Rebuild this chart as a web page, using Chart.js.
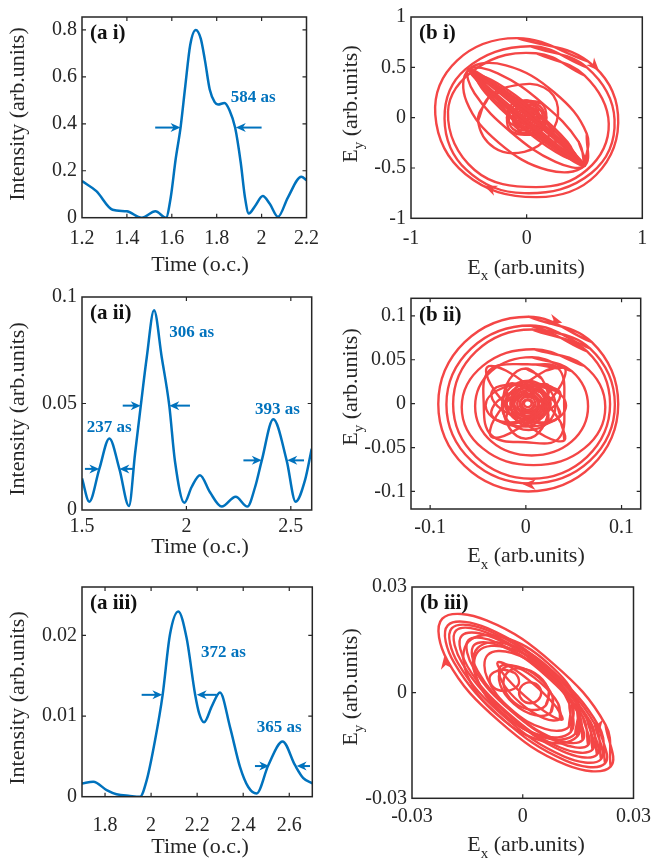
<!DOCTYPE html>
<html>
<head>
<meta charset="utf-8">
<script src="https://cdn.jsdelivr.net/npm/chart.js@4.4.1/dist/chart.umd.min.js"></script>
<style>
  body { margin: 0; background: #fff; }
  #page { position: relative; width: 657px; height: 862px; overflow: hidden; }
  canvas { position: absolute; }
</style>
</head>
<body>
<div id="page">
  <canvas id="ai" width="328" height="280" style="left:0;top:0"></canvas>
  <canvas id="bi" width="327" height="280" style="left:330px;top:0"></canvas>
  <canvas id="aii" width="328" height="290" style="left:0;top:280px"></canvas>
  <canvas id="bii" width="327" height="290" style="left:330px;top:280px"></canvas>
  <canvas id="aiii" width="328" height="292" style="left:0;top:570px"></canvas>
  <canvas id="biii" width="327" height="292" style="left:330px;top:570px"></canvas>
</div>
<script>
// ---------- (a i) pulse ----------
const aiTime = [1.2, 1.264, 1.336, 1.40, 1.466, 1.527, 1.574, 1.595, 1.617, 1.639, 1.660, 1.682, 1.707, 1.729, 1.748, 1.769, 1.791, 1.806, 1.835, 1.857, 1.882, 1.907, 1.926, 1.943, 1.972, 2.005, 2.037, 2.073, 2.117, 2.177, 2.2];
const aiIntensity = [0.156, 0.113, 0.034, 0.027, 0.0, 0.027, 0.0, 0.085, 0.248, 0.384, 0.560, 0.736, 0.80, 0.763, 0.668, 0.546, 0.492, 0.482, 0.489, 0.458, 0.384, 0.235, 0.086, 0.018, 0.051, 0.092, 0.058, 0.004, 0.086, 0.174, 0.160];
const aiTimeTicks = [1.2, 1.4, 1.6, 1.8, 2, 2.2];
const aiIntensityTicks = [0, 0.2, 0.4, 0.6, 0.8];
const aiArrows = [[1.526, 1.639, 0.384], [2.0, 1.885, 0.384]];   // tail, head, level
const aiWidthText = ['584 as'];
const aiWidthX = [1.863];
const aiWidthY = [0.512];

// ---------- (a ii) pulse ----------
const aiiTime = [1.5, 1.535, 1.583, 1.631, 1.679, 1.725, 1.754, 1.7815, 1.81, 1.845, 1.882, 1.918, 1.945, 1.99, 2.025, 2.065, 2.113, 2.169, 2.236, 2.292, 2.329, 2.361, 2.416, 2.48, 2.523, 2.568, 2.6];
const aiiIntensity = [0.0148, 0.0039, 0.0193, 0.0336, 0.0193, 0.0019, 0.0264, 0.049, 0.0716, 0.0938, 0.0716, 0.049, 0.023, 0.0034, 0.0108, 0.0163, 0.0083, 0.0016, 0.0062, 0.0016, 0.0108, 0.0233, 0.0426, 0.0233, 0.0039, 0.014, 0.0288];
const aiiTimeTicks = [1.5, 2, 2.5];
const aiiIntensityTicks = [0, 0.05, 0.1];
const aiiArrows = [[1.514, 1.583, 0.0193], [1.746, 1.679, 0.0193], [1.695, 1.781, 0.049], [2.017, 1.918, 0.049], [2.273, 2.361, 0.0233], [2.563, 2.483, 0.0233]];
const aiiWidthText = ['237 as', '306 as', '393 as'];
const aiiWidthX = [1.5225, 1.918, 2.329];
const aiiWidthY = [0.0389, 0.0832, 0.047];

// ---------- (a iii) pulse ----------
const aiiiTime = [1.7, 1.749, 1.807, 1.85, 1.908, 1.952, 1.981, 2.017, 2.05, 2.082, 2.118, 2.154, 2.191, 2.209, 2.23, 2.265, 2.299, 2.343, 2.386, 2.422, 2.458, 2.509, 2.571, 2.625, 2.661, 2.7];
const aiiiIntensity = [0.00165, 0.00185, 0.00082, 0.0003, 0.0001, 0.0, 0.00205, 0.00697, 0.0126, 0.0201, 0.02296, 0.0197, 0.0127, 0.0103, 0.00923, 0.0113, 0.01292, 0.0086, 0.0037, 0.0012, 0.0004, 0.0039, 0.00685, 0.0039, 0.0023, 0.00165];
const aiiiTimeTicks = [1.8, 2, 2.2, 2.4, 2.6];
const aiiiIntensityTicks = [0, 0.01, 0.02];
const aiiiArrows = [[1.959, 2.049, 0.01263], [2.285, 2.198, 0.01263], [2.451, 2.513, 0.0038], [2.69, 2.632, 0.0038]];
const aiiiWidthText = ['372 as', '365 as'];
const aiiiWidthX = [2.217, 2.459];
const aiiiWidthY = [0.0179, 0.0086];

// ---------- (b i) polarization loops [Ex, Ey] ----------
const biRing1 = [[-0.08, 0.79], [0.53, 0.56], [0.79, 0.03], [0.60, -0.57], [0.08, -0.79], [-0.53, -0.56], [-0.79, 0.03], [-0.60, 0.57]];
const biRing2 = [[0.03, 0.71], [0.52, 0.50], [0.76, -0.02], [0.56, -0.55], [-0.02, -0.75], [-0.52, -0.52], [-0.71, -0.01], [-0.53, 0.48]];
const biRing3 = [[0.08, 0.64], [0.50, 0.42], [0.71, -0.06], [0.52, -0.52], [0.08, -0.69], [-0.45, -0.52], [-0.68, 0.06], [-0.42, 0.50]];
const biTilt1 = [[0.50, -0.48], [0.52, -0.16], [0.24, 0.25], [-0.18, 0.52], [-0.50, 0.48], [-0.52, 0.16], [-0.24, -0.25], [0.18, -0.52]];
const biTilt2 = [[0.50, -0.48], [0.45, -0.24], [0.14, 0.14], [-0.25, 0.44], [-0.50, 0.48], [-0.45, 0.24], [-0.14, -0.14], [0.25, -0.44]];
const biNeedle1 = [[0.50, -0.48], [0.38, -0.31], [0.04, 0.04], [-0.32, 0.37], [-0.50, 0.48], [-0.38, 0.31], [-0.04, -0.04], [0.32, -0.37]];
const biNeedle2 = [[0.50, -0.48], [0.37, -0.32], [0.02, 0.02], [-0.34, 0.35], [-0.50, 0.48], [-0.37, 0.32], [-0.02, -0.02], [0.34, -0.35]];
const biNeedle3 = [[0.40, -0.38], [0.30, -0.24], [0.03, 0.04], [-0.26, 0.29], [-0.40, 0.38], [-0.30, 0.24], [-0.03, -0.04], [0.26, -0.29]];
const biNeedle4 = [[0.45, -0.43], [0.35, -0.26], [0.06, 0.06], [-0.28, 0.34], [-0.45, 0.43], [-0.35, 0.26], [-0.06, -0.06], [0.28, -0.34]];
const biNeedle5 = [[0.50, -0.48], [0.373, -0.314], [0.031, 0.032], [-0.329, 0.36], [-0.50, 0.48], [-0.373, 0.314], [-0.031, -0.032], [0.329, -0.36]];
const biNeedle6 = [[0.50, -0.48], [0.358, -0.329], [0.01, 0.011], [-0.344, 0.345], [-0.50, 0.48], [-0.358, 0.329], [-0.01, -0.011], [0.344, -0.345]];
const biNeedle7 = [[0.252, -0.242], [0.222, -0.125], [0.062, 0.065], [-0.134, 0.217], [-0.252, 0.242], [-0.222, 0.125], [-0.062, -0.065], [0.134, -0.217]];
const biNeedle8 = [[0.432, -0.414], [0.354, -0.242], [0.069, 0.072], [-0.256, 0.344], [-0.432, 0.414], [-0.354, 0.242], [-0.069, -0.072], [0.256, -0.344]];
const biInner = [[-0.42, -0.03], [-0.33, 0.20], [-0.10, 0.32], [0.15, 0.30], [0.27, 0.10], [0.20, -0.17], [-0.02, -0.34], [-0.28, -0.30]];
const biCore1 = [[0, 0.17], [0.13, 0.14], [0.17, 0], [0.12, -0.14], [0, -0.17], [-0.14, -0.13], [-0.17, 0], [-0.13, 0.13]];
const biCore2 = [[0.01, 0.13], [0.10, 0.10], [0.14, 0], [0.10, -0.10], [0.01, -0.13], [-0.09, -0.10], [-0.12, 0], [-0.09, 0.10]];
const biCore3 = [[0, 0.09], [0.065, 0.065], [0.09, 0], [0.065, -0.065], [0, -0.09], [-0.065, -0.065], [-0.09, 0], [-0.065, 0.065]];
const biCore4 = [[0, 0.05], [0.035, 0.035], [0.05, 0], [0.035, -0.035], [0, -0.05], [-0.035, -0.035], [-0.05, 0], [-0.035, 0.035]];
const biCore5 = [[0, 0.10], [0.12, 0.07], [0.17, 0], [0.12, -0.07], [0, -0.10], [-0.12, -0.07], [-0.17, 0], [-0.12, 0.07]];
const biCore6 = [[0, 0.17], [0.07, 0.12], [0.10, 0], [0.07, -0.12], [0, -0.17], [-0.07, -0.12], [-0.10, 0], [-0.07, 0.12]];
const biCore7 = [[0.01, 0.155], [0.115, 0.115], [0.155, 0.005], [0.11, -0.12], [0, -0.155], [-0.12, -0.11], [-0.155, 0], [-0.11, 0.115]];
const biCore8 = [[0, 0.11], [0.08, 0.08], [0.115, 0], [0.08, -0.08], [0, -0.11], [-0.08, -0.08], [-0.11, 0], [-0.08, 0.08]];
const biCore9 = [[0, 0.07], [0.05, 0.05], [0.07, 0], [0.05, -0.05], [0, -0.07], [-0.05, -0.05], [-0.07, 0], [-0.05, 0.05]];
const biCore10 = [[0, 0.03], [0.021, 0.021], [0.03, 0], [0.021, -0.021], [0, -0.03], [-0.021, -0.021], [-0.03, 0], [-0.021, 0.021]];
const biCore11 = [[0, 0.014], [0.01, 0.01], [0.014, 0], [0.01, -0.01], [0, -0.014], [-0.01, -0.01], [-0.014, 0], [-0.01, 0.01]];
const biHeads = [[0.59, 0.51, 0.64, -0.77], [-0.32, -0.70, -0.906, 0.423]];   // x, y, direction
const biTicksX = [-1, 0, 1];
const biTicksY = [-1, -0.5, 0, 0.5, 1];

// ---------- (b ii) polarization loops ----------
const biiRing1 = [[0.0025, 0.099], [0.069, 0.070], [0.0965, -0.0005], [0.069, -0.071], [0.0025, -0.100], [-0.064, -0.071], [-0.0915, -0.0005], [-0.064, 0.070]];
const biiRing2 = [[0.005, 0.089], [0.067, 0.063], [0.093, -0.001], [0.067, -0.065], [0.005, -0.091], [-0.057, -0.065], [-0.083, -0.001], [-0.057, 0.063]];
const biiRing3 = [[0.006, 0.0845], [0.064, 0.0596], [0.088, -0.0005], [0.064, -0.0606], [0.006, -0.0855], [-0.052, -0.0606], [-0.076, -0.0005], [-0.052, 0.0596]];
const biiMid1 = [[0.008, 0.062], [0.061, 0.043], [0.083, -0.004], [0.061, -0.051], [0.008, -0.070], [-0.045, -0.051], [-0.067, -0.004], [-0.045, 0.043]];
const biiMid2 = [[0.006, 0.053], [0.048, 0.037], [0.065, -0.003], [0.048, -0.043], [0.006, -0.059], [-0.036, -0.043], [-0.053, -0.003], [-0.036, 0.037]];
const biiPetal1 = [[0.0403, -0.0417], [0.0366, -0.0216], [0.0115, 0.0111], [-0.0204, 0.0374], [-0.0403, 0.0417], [-0.0366, 0.0216], [-0.0115, -0.0111], [0.0204, -0.0374]];
const biiPetal2 = [[0.0402, 0.0415], [0.0209, 0.0378], [-0.0095, 0.0131], [-0.0331, -0.018], [-0.0362, -0.0375], [-0.0169, -0.0338], [0.0135, -0.0091], [0.0371, 0.022]];
const biiPetal3 = [[0, 0.022], [0.03, 0.015], [0.042, -0.002], [0.03, -0.019], [0, -0.026], [-0.03, -0.019], [-0.042, -0.002], [-0.03, 0.015]];
const biiPetal4 = [[0, 0.04], [0.017, 0.028], [0.024, 0], [0.017, -0.028], [0, -0.04], [-0.017, -0.028], [-0.024, 0], [-0.017, 0.028]];
const biiPetal5 = [[0.0357, 0.013], [0.0208, 0.0212], [-0.0062, 0.0169], [-0.0296, 0.0028], [-0.0357, -0.013], [-0.0208, -0.0212], [0.0062, -0.0169], [0.0296, -0.0028]];
const biiPetal6 = [[0.0357, -0.013], [0.0296, 0.0028], [0.0062, 0.0169], [-0.0208, 0.0212], [-0.0357, 0.013], [-0.0296, -0.0028], [-0.0062, -0.0169], [0.0208, -0.0212]];
const biiEdge = [[0, 0.045], [0.034, 0.04], [0.04, 0], [0.034, -0.04], [0, -0.044], [-0.036, -0.036], [-0.044, 0], [-0.038, 0.038]];
const biiCore1 = [[0.002, 0.022], [0.0175, 0.0155], [0.024, 0], [0.0175, -0.0155], [0.002, -0.022], [-0.0135, -0.0155], [-0.02, 0], [-0.0135, 0.0155]];
const biiCore2 = [[0.002, 0.015], [0.0126, 0.0106], [0.017, 0], [0.0126, -0.0106], [0.002, -0.015], [-0.0086, -0.0106], [-0.013, 0], [-0.0086, 0.0106]];
const biiCore3 = [[0.002, 0.008], [0.0077, 0.0057], [0.01, 0], [0.0077, -0.0057], [0.002, -0.008], [-0.0037, -0.0057], [-0.006, 0], [-0.0037, 0.0057]];
const biiCore4 = [[0.0229, -0.0216], [0.0229, -0.0094], [0.0106, 0.0083], [-0.0067, 0.0212], [-0.0189, 0.0216], [-0.0189, 0.0094], [-0.0066, -0.0083], [0.0107, -0.0212]];
const biiCore5 = [[0.0229, 0.0216], [0.0107, 0.0212], [-0.0066, 0.0083], [-0.0189, -0.0094], [-0.0189, -0.0216], [-0.0067, -0.0212], [0.0106, -0.0083], [0.0229, 0.0094]];
const biiCore6 = [[0.003, 0.026], [0.0228, 0.0178], [0.031, -0.002], [0.0228, -0.0218], [0.003, -0.030], [-0.0168, -0.0218], [-0.025, -0.002], [-0.0168, 0.0178]];
const biiCore7 = [[0.002, 0.004], [0.0048, 0.0028], [0.006, 0], [0.0048, -0.0028], [0.002, -0.004], [-0.0008, -0.0028], [-0.002, 0], [-0.0008, 0.0028]];
const biiCore8 = [[0.002, 0.011], [0.0098, 0.0078], [0.013, 0], [0.0098, -0.0078], [0.002, -0.011], [-0.0058, -0.0078], [-0.009, 0], [-0.0058, 0.0078]];
const biiCore9 = [[0.003, 0.019], [0.0164, 0.0134], [0.022, 0], [0.0164, -0.0134], [0.003, -0.019], [-0.0104, -0.0134], [-0.016, 0], [-0.0104, 0.0134]];
const biiCore10 = [[0.002, 0.005], [0.0062, 0.0032], [0.008, -0.001], [0.0062, -0.0052], [0.002, -0.007], [-0.0022, -0.0052], [-0.004, -0.001], [-0.0022, 0.0032]];
const biiCore11 = [[0.003, 0.0095], [0.0097, 0.0067], [0.0125, 0], [0.0097, -0.0067], [0.003, -0.0095], [-0.0037, -0.0067], [-0.0065, 0], [-0.0037, 0.0067]];
const biiCore12 = [[0.001, 0.012], [0.0102, 0.0082], [0.014, -0.001], [0.0102, -0.0102], [0.001, -0.014], [-0.0082, -0.0102], [-0.012, -0.001], [-0.0082, 0.0082]];
const biiCore13 = [[0.003, 0.018], [0.015, 0.013], [0.02, 0.001], [0.015, -0.011], [0.003, -0.016], [-0.009, -0.011], [-0.014, 0.001], [-0.009, 0.013]];
const biiCore14 = [[0.002, 0.018], [0.019, 0.0127], [0.026, 0], [0.019, -0.0127], [0.002, -0.018], [-0.015, -0.0127], [-0.022, 0], [-0.015, 0.0127]];
const biiCore15 = [[0.002, 0.025], [0.0147, 0.0177], [0.02, 0], [0.0147, -0.0177], [0.002, -0.025], [-0.0107, -0.0177], [-0.016, 0], [-0.0107, 0.0177]];
const biiHeads = [[0.032, 0.094, 1, -0.3], [0.003, -0.092, -1, 0.03]];
const biiTicksX = [-0.1, 0, 0.1];
const biiTicksY = [-0.1, -0.05, 0, 0.05, 0.1];

// ---------- (b iii) polarization loops ----------
const biiiRing1 = [[0.0238, -0.021], [0.0224, -0.0091], [0.0084, 0.0081], [-0.0098, 0.0205], [-0.0218, 0.021], [-0.0204, 0.0091], [-0.0064, -0.0081], [0.0118, -0.0205]];
const biiiRing2 = [[0.0223, -0.0201], [0.0206, -0.0095], [0.0074, 0.0065], [-0.0096, 0.0183], [-0.0203, 0.0191], [-0.0186, 0.0085], [-0.0054, -0.0075], [0.0116, -0.0193]];
const biiiRing3 = [[0.0201, -0.0176], [0.0183, -0.0082], [0.0064, 0.0059], [-0.0087, 0.0166], [-0.0181, 0.0176], [-0.0163, 0.0082], [-0.0044, -0.0059], [0.0107, -0.0166]];
const biiiRing4 = [[0.0177, -0.0149], [0.0163, -0.0069], [0.0062, 0.0052], [-0.0067, 0.0141], [-0.0147, 0.0149], [-0.0133, 0.0069], [-0.0032, -0.0052], [0.0097, -0.0141]];
const biiiRing5 = [[0.0212, -0.0189], [0.0195, -0.0089], [0.007, 0.0062], [-0.0091, 0.0175], [-0.0192, 0.0183], [-0.0175, 0.0083], [-0.005, -0.0068], [0.0111, -0.0181]];
const biiiRing6 = [[0.0189, -0.0162], [0.0174, -0.0075], [0.0065, 0.0057], [-0.0076, 0.0155], [-0.0165, 0.0162], [-0.015, 0.0075], [-0.0041, -0.0057], [0.01, -0.0155]];
const biiiRing7 = [[0.0162, -0.0135], [0.0152, -0.0061], [0.0061, 0.005], [-0.0056, 0.0131], [-0.0132, 0.0135], [-0.0122, 0.0061], [-0.0031, -0.005], [0.0086, -0.0131]];
const biiiMid1 = [[0.0142, -0.0117], [0.0147, -0.0034], [0.0071, 0.0071], [-0.0041, 0.0138], [-0.0122, 0.0127], [-0.0127, 0.0044], [-0.0051, -0.0061], [0.0061, -0.0128]];
const biiiMid2 = [[0.0147, -0.0125], [0.0152, -0.0034], [0.0068, 0.0084], [-0.0056, 0.0158], [-0.0147, 0.0145], [-0.0152, 0.0054], [-0.0068, -0.0064], [0.0056, -0.0138]];
const biiiMid3 = [[0.0125, -0.0097], [0.0126, -0.0031], [0.0062, 0.0057], [-0.003, 0.0113], [-0.0095, 0.0107], [-0.0096, 0.0041], [-0.0032, -0.0047], [0.006, -0.0103]];
const biiiMid4 = [[0.013, -0.0112], [0.0134, -0.0034], [0.0063, 0.0066], [-0.0042, 0.0128], [-0.012, 0.0118], [-0.0124, 0.004], [-0.0053, -0.006], [0.0052, -0.0122]];
const biiiCore1 = [[0.0101, -0.0074], [0.0096, -0.0031], [0.0047, 0.0029], [-0.0018, 0.0073], [-0.0061, 0.0074], [-0.0056, 0.0031], [-0.0007, -0.0029], [0.0058, -0.0073]];
const biiiCore2 = [[0.0062, -0.0037], [0.0071, 0.0003], [0.0044, 0.0047], [-0.0003, 0.0069], [-0.0042, 0.0057], [-0.0051, 0.0017], [-0.0024, -0.0027], [0.0023, -0.0049]];
const biiiCore3 = [[0.002, 0.003], [0.0041, 0.0021], [0.005, 0], [0.0041, -0.0021], [0.002, -0.003], [-0.0001, -0.0021], [-0.001, 0], [-0.0001, 0.0021]];
const biiiCore4 = [[0.0108, -0.0076], [0.0092, -0.0042], [0.0034, 0.002], [-0.0032, 0.0072], [-0.0068, 0.0086], [-0.0052, 0.0052], [0.0006, -0.001], [0.0072, -0.0062]];
const biiiCore5 = [[-0.005, 0.0065], [-0.0022, 0.0056], [-0.001, 0.003], [-0.0022, 0.0012], [-0.005, 0.0005], [-0.0078, 0.0014], [-0.009, 0.004], [-0.0078, 0.0058]];
const biiiCore6 = [[0.0076, -0.0056], [0.0081, -0.0012], [0.0044, 0.0042], [-0.0013, 0.0074], [-0.0056, 0.0066], [-0.0061, 0.0022], [-0.0024, -0.0032], [0.0033, -0.0064]];
const biiiHeads = [[-0.021, 0.0087, -0.15, 1], [0.0205, -0.0097, 0.12, -1]];
const biiiTicksX = [-0.03, 0, 0.03];
const biiiTicksY = [-0.03, 0, 0.03];

const FONT = '"Liberation Serif", "Times New Roman", serif';
const INK = '#262626';
const BLUE = '#0072BD';
const RED = '#F44646';

Chart.defaults.font.family = FONT;
Chart.defaults.animation = false;

// filled arrowhead with a notch, tip at (x, y) pointing along (ux, uy)
function dart(ctx, x, y, ux, uy, len, half, notch) {
  const px = -uy, py = ux;
  const bx = x - ux * len, by = y - uy * len;
  ctx.beginPath();
  ctx.moveTo(x, y);
  ctx.lineTo(bx + px * half, by + py * half);
  ctx.lineTo(x - ux * (len - notch), y - uy * (len - notch));
  ctx.lineTo(bx - px * half, by - py * half);
  ctx.closePath();
  ctx.fill();
}

// text made of pieces [text, size, dy], centred at (x, y)
function richText(ctx, parts, x, y, rotate) {
  ctx.save();
  ctx.translate(x, y);
  if (rotate) ctx.rotate(-Math.PI / 2);
  ctx.textBaseline = 'middle';
  ctx.textAlign = 'left';
  ctx.fillStyle = INK;
  let w = 0;
  parts.forEach(p => { ctx.font = p[1] + 'px ' + FONT; w += ctx.measureText(p[0]).width; });
  let cx = -w / 2;
  parts.forEach(p => {
    ctx.font = p[1] + 'px ' + FONT;
    ctx.fillText(p[0], cx, p[2]);
    cx += ctx.measureText(p[0]).width;
  });
  ctx.restore();
}

const decor = {
  id: 'decor',
  afterDatasetsDraw(chart, args, o) {
    const ctx = chart.ctx, xs = chart.scales.x, ys = chart.scales.y;
    ctx.save();
    // pulse width markers
    (o.arrows || []).forEach(([x0, x1, y]) => {
      const p0 = xs.getPixelForValue(x0), p1 = xs.getPixelForValue(x1), py = ys.getPixelForValue(y);
      const dir = Math.sign(p1 - p0);
      ctx.strokeStyle = BLUE; ctx.fillStyle = BLUE; ctx.lineWidth = 2;
      ctx.beginPath(); ctx.moveTo(p0, py); ctx.lineTo(p1 - dir * 6, py); ctx.stroke();
      dart(ctx, p1, py, dir, 0, 10, 4.5, 3);
    });
    (o.notes || []).forEach(([text, x, y]) => {
      ctx.font = 'bold 17px ' + FONT;
      ctx.fillStyle = BLUE; ctx.textAlign = 'left'; ctx.textBaseline = 'middle';
      ctx.fillText(text, xs.getPixelForValue(x), ys.getPixelForValue(y));
    });
    // rotation sense arrows on the loops
    (o.heads || []).forEach(([x, y, dx, dy]) => {
      const eps = (xs.max - xs.min) * 0.01;
      const px = xs.getPixelForValue(x), py = ys.getPixelForValue(y);
      let ux = xs.getPixelForValue(x + dx * eps) - px, uy = ys.getPixelForValue(y + dy * eps) - py;
      const n = Math.hypot(ux, uy); ux /= n; uy /= n;
      ctx.fillStyle = RED;
      dart(ctx, px + ux * 6, py + uy * 6, ux, uy, 13, 5.5, 4);
    });
    ctx.restore();
  },
  afterDraw(chart, args, o) {
    const ctx = chart.ctx, a = chart.chartArea, xs = chart.scales.x, ys = chart.scales.y;
    ctx.save();
    ctx.strokeStyle = INK; ctx.lineWidth = 1.5;
    ctx.strokeRect(a.left, a.top, a.right - a.left, a.bottom - a.top);
    ctx.lineWidth = 1.2;
    ctx.beginPath();
    xs.ticks.forEach(t => {
      const p = xs.getPixelForValue(t.value);
      if (p - a.left < 2 || a.right - p < 2) return;
      ctx.moveTo(p, a.bottom); ctx.lineTo(p, a.bottom - 4);
      ctx.moveTo(p, a.top); ctx.lineTo(p, a.top + 4);
    });
    ys.ticks.forEach(t => {
      const p = ys.getPixelForValue(t.value);
      if (p - a.top < 2 || a.bottom - p < 2) return;
      ctx.moveTo(a.left, p); ctx.lineTo(a.left + 4, p);
      ctx.moveTo(a.right, p); ctx.lineTo(a.right - 4, p);
    });
    ctx.stroke();
    // panel tag
    ctx.font = 'bold 21px ' + FONT;
    ctx.fillStyle = '#111'; ctx.textAlign = 'left'; ctx.textBaseline = 'middle';
    ctx.fillText(o.tag, a.left + 8, a.top + 17);
    ctx.restore();
    richText(ctx, o.xTitle, o.xTitleAt[0], o.xTitleAt[1], false);
    richText(ctx, o.yTitle, o.yTitleAt[0], o.yTitleAt[1], true);
  }
};

const timeTitle = [['Time (o.c.)', 22, 0]];
const intensityTitle = [['Intensity (arb.units)', 22, 0]];
const exTitle = [['E', 22, 0], ['x', 15, 8], [' (arb.units)', 22, 0]];
const eyTitle = [['E', 22, 0], ['y', 15, 8], [' (arb.units)', 22, 0]];

function axes(box, w, h, xr, yr, xTicks, yTicks, xPad) {
  const tickFont = { size: 20, family: FONT };
  return {
    x: {
      type: 'linear', min: xr[0], max: xr[1],
      afterBuildTicks: s => { s.ticks = xTicks.map(v => ({ value: v })); },
      afterFit: s => { s.height = h - box.b; },
      grid: { display: false, drawTicks: false }, border: { display: false },
      ticks: { font: tickFont, color: INK, padding: xPad, maxRotation: 0, autoSkip: false, callback: v => String(v) }
    },
    y: {
      type: 'linear', min: yr[0], max: yr[1],
      afterBuildTicks: s => { s.ticks = yTicks.map(v => ({ value: v })); },
      afterFit: s => { s.width = box.l; },
      grid: { display: false, drawTicks: false }, border: { display: false },
      ticks: { font: tickFont, color: INK, padding: 5, autoSkip: false, callback: v => String(v) }
    }
  };
}

function pulseChart(id, box, time, vals, xr, yr, xTicks, yTicks, xPad, arrows, texts, tx, ty, tag, titleY, yTitleY) {
  const cv = document.getElementById(id);
  new Chart(cv, {
    type: 'line',
    data: { datasets: [{
      data: time.map((t, i) => ({ x: t, y: vals[i] })),
      borderColor: BLUE, borderWidth: 2.5, pointRadius: 0,
      cubicInterpolationMode: 'monotone', fill: false
    }] },
    options: {
      responsive: false,
      events: [],
      layout: { padding: { top: box.t, right: cv.width - box.r, left: 0, bottom: 0 } },
      scales: axes(box, cv.width, cv.height, xr, yr, xTicks, yTicks, xPad),
      plugins: {
        legend: { display: false }, tooltip: { enabled: false },
        decor: {
          arrows, notes: texts.map((s, i) => [s, tx[i], ty[i]]), tag,
          xTitle: timeTitle, xTitleAt: [200, titleY],
          yTitle: intensityTitle, yTitleAt: [18, yTitleY]
        }
      }
    },
    plugins: [decor]
  });
}

function loopChart(id, box, loops, lim, xTicks, yTicks, xPad, heads, tag, titleY, yTitleY) {
  const cv = document.getElementById(id);
  new Chart(cv, {
    type: 'scatter',
    data: { datasets: loops.map(loop => ({
      data: loop.concat([loop[0], loop[1]]).map(([x, y]) => ({ x, y })),
      showLine: true, tension: 0.4, borderColor: RED, borderWidth: 2.4,
      pointRadius: 0, fill: false
    })) },
    options: {
      responsive: false,
      events: [],
      layout: { padding: { top: box.t, right: cv.width - box.r, left: 0, bottom: 0 } },
      scales: axes(box, cv.width, cv.height, [-lim, lim], [-lim, lim], xTicks, yTicks, xPad),
      plugins: {
        legend: { display: false }, tooltip: { enabled: false },
        decor: {
          heads, tag,
          xTitle: exTitle, xTitleAt: [196, titleY],
          yTitle: eyTitle, yTitleAt: [21, yTitleY]
        }
      }
    },
    plugins: [decor]
  });
}

pulseChart('ai', { l: 82, t: 7.3, r: 312.5, b: 217.7 }, aiTime, aiIntensity, [1.2, 2.2], [0, 0.855],
  aiTimeTicks, aiIntensityTicks, 9, aiArrows, aiWidthText, aiWidthX, aiWidthY, '(a i)', 265, 114);
pulseChart('aii', { l: 82, t: 15.7, r: 311.7, b: 230 }, aiiTime, aiiIntensity, [1.5, 2.6], [0, 0.1],
  aiiTimeTicks, aiiIntensityTicks, 5, aiiArrows, aiiWidthText, aiiWidthX, aiiWidthY, '(a ii)', 267, 129);
pulseChart('aiii', { l: 82, t: 15.7, r: 312.3, b: 226.7 }, aiiiTime, aiiiIntensity, [1.7, 2.7], [0, 0.026],
  aiiiTimeTicks, aiiiIntensityTicks, 17, aiiiArrows, aiiiWidthText, aiiiWidthX, aiiiWidthY, '(a iii)', 277, 128);

loopChart('bi', { l: 81, t: 7.3, r: 312.3, b: 218.3 },
  [biRing1, biRing2, biRing3, biTilt1, biTilt2, biInner,
   biNeedle1, biNeedle2, biNeedle3, biNeedle4, biNeedle5, biNeedle6, biNeedle7, biNeedle8,
   biCore1, biCore2, biCore3, biCore4, biCore5, biCore6, biCore7, biCore8, biCore9, biCore10, biCore11],
  1, biTicksX, biTicksY, 8, biHeads, '(b i)', 268, 104);
loopChart('bii', { l: 81, t: 18.3, r: 310.7, b: 229 },
  [biiRing1, biiRing2, biiRing3, biiMid1, biiMid2, biiPetal1, biiPetal2, biiPetal3, biiPetal4, biiPetal5, biiPetal6, biiEdge,
   biiCore1, biiCore2, biiCore3, biiCore4, biiCore5, biiCore6, biiCore7, biiCore8, biiCore9,
   biiCore10, biiCore11, biiCore12, biiCore13, biiCore14, biiCore15],
  0.12, biiTicksX, biiTicksY, 7, biiHeads, '(b ii)', 276.7, 107);
loopChart('biii', { l: 82, t: 15.7, r: 310.7, b: 228.3 },
  [biiiRing1, biiiRing5, biiiRing2, biiiRing6, biiiRing3, biiiRing4, biiiRing7, biiiMid1, biiiMid2, biiiMid3, biiiMid4,
   biiiCore1, biiiCore2, biiiCore3, biiiCore4, biiiCore5, biiiCore6],
  0.03, biiiTicksX, biiiTicksY, 6, biiiHeads, '(b iii)', 275.7, 117);
</script>
</body>
</html>
